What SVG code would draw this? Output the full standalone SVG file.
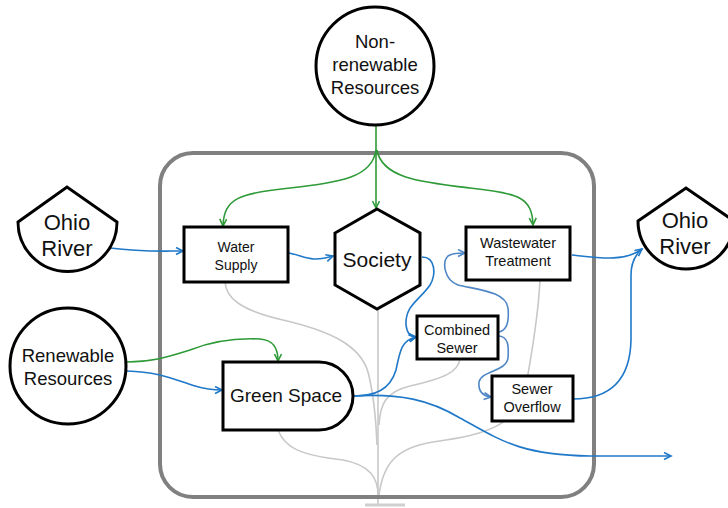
<svg xmlns="http://www.w3.org/2000/svg" width="728" height="508" viewBox="0 0 728 508">
<defs>
<style>
.node{fill:#fff;stroke:#000;stroke-width:3}
.t{font-family:"Liberation Sans",Arial,sans-serif;fill:#111;text-anchor:middle}
.blue{fill:none;stroke:#1f78c8;stroke-width:1.6}
.lblue{fill:none;stroke:#4f86c6;stroke-width:1.6}
.green{fill:none;stroke:#2e9a38;stroke-width:1.6}
.tree{fill:none;stroke:#c8c8c8;stroke-width:1.6}
</style>
<marker id="ab" markerUnits="userSpaceOnUse" markerWidth="10" markerHeight="10" refX="8" refY="4" orient="auto"><path d="M1,0.5 L8,4 L1,7.5" fill="none" stroke="#1f78c8" stroke-width="1.6"/></marker>
<marker id="alb" markerUnits="userSpaceOnUse" markerWidth="10" markerHeight="10" refX="8" refY="4" orient="auto"><path d="M1,0.5 L8,4 L1,7.5" fill="none" stroke="#4f86c6" stroke-width="1.6"/></marker>
<marker id="ag" markerUnits="userSpaceOnUse" markerWidth="10" markerHeight="10" refX="8" refY="4" orient="auto"><path d="M1,0.5 L8,4 L1,7.5" fill="none" stroke="#2e9a38" stroke-width="1.6"/></marker>
</defs>
<rect width="728" height="508" fill="#fff"/>

<g id="tree">
<path class="tree" d="M378,309 L378,505"/>
<path d="M365,505 L405,505" stroke="#d0d0d0" stroke-width="3"/>
<path class="tree" d="M225,282 C226,298 240,310 283,320 C330,331 360,345 368,372 C374,395 376,420 377,445"/>
<path class="tree" d="M460,359 C458,372 445,378 410,386 C385,392 380,405 379,425"/>
<path class="tree" d="M278,430 C285,448 300,455 343,460 C370,465 378,478 378,495"/>
<path class="tree" d="M540,280 C538,320 532,350 527,380 C520,425 490,434 433,442 C395,448 383,465 379,495"/>
</g>

<g id="system-boundary">
<rect x="160" y="153" width="434" height="344" rx="33" fill="none" stroke="#808080" stroke-width="4"/>
</g>

<g id="connectors">
<path class="green" d="M376,125 L376,208" marker-end="url(#ag)"/>
<path class="green" d="M376,150 C372,178 340,182 290,188 C240,193 224,198 223,226" marker-end="url(#ag)"/>
<path class="green" d="M377,150 C382,178 420,182 470,188 C520,193 532,198 533,225" marker-end="url(#ag)"/>
<path class="green" d="M127,362 C150,362 165,358 190,350 C215,340 240,338 260,339 C275,340 278,350 278,361" marker-end="url(#ag)"/>
<path class="blue" d="M110,248 C140,252 160,251 183,251" marker-end="url(#ab)"/>
<path class="blue" d="M127,371 C160,372 175,380 195,386 C205,389 212,390 222,390" marker-end="url(#ab)"/>
<path class="blue" d="M289,253 C305,256 310,263 333,256" marker-end="url(#ab)"/>
<path class="blue" d="M422,257 C436,257 436,275 430,285 C420,300 405,305 406,325 C407,333 410,337 416,337" marker-end="url(#ab)"/>
<path class="blue" d="M353,396 C375,396 390,390 396,370 C400,350 402,340 416,337" marker-end="url(#ab)"/>
<path class="lblue" d="M499,332 C508,330 509,318 508,308 C506,292 480,290 458,285 C444,280 442,262 448,256 C452,253 458,253 465,253" marker-end="url(#alb)"/>
<path class="lblue" d="M499,336 C508,337 509,345 508,358 C506,372 482,370 479,382 C478,392 484,396 491,397" marker-end="url(#alb)"/>
<path class="blue" d="M572,255 C600,258 625,262 642,249" marker-end="url(#ab)"/>
<path class="blue" d="M573,399 C605,399 630,385 631,340 L631,275 C631,262 635,255 642,249"/>
<path class="blue" d="M353,396 C400,393 430,400 460,418 C500,440 520,455 590,456 L671,456" marker-end="url(#ab)"/>
</g>

<g id="nonrenewable">
<circle class="node" cx="375" cy="66" r="59"/>
<text class="t" font-size="18.5" x="375" y="48">Non-</text>
<text class="t" font-size="18.5" x="375" y="71">renewable</text>
<text class="t" font-size="18.5" x="375" y="94">Resources</text>
</g>

<g id="ohio-left">
<path class="node" d="M18,222 L67,187 L117,222 A49.5,49.5 0 0 1 18,222 Z"/>
<text class="t" font-size="22" x="67" y="230">Ohio</text>
<text class="t" font-size="22" x="67" y="256">River</text>
</g>

<g id="ohio-right">
<path class="node" d="M638,221 L686,188 L734,221 A48,48 0 0 1 638,221 Z"/>
<text class="t" font-size="22" x="685" y="228">Ohio</text>
<text class="t" font-size="22" x="685" y="254">River</text>
</g>

<g id="renewable">
<circle class="node" cx="68" cy="366" r="58"/>
<text class="t" font-size="18.5" x="68" y="362">Renewable</text>
<text class="t" font-size="18.5" x="68" y="385">Resources</text>
</g>

<g id="water-supply">
<rect class="node" x="184" y="227" width="104" height="55"/>
<text class="t" font-size="14" x="236" y="252">Water</text>
<text class="t" font-size="14" x="236" y="270">Supply</text>
</g>

<g id="society">
<polygon class="node" points="377,209 420,233 420,285 377,309 335,285 335,233"/>
<text class="t" font-size="21" x="377" y="267">Society</text>
</g>

<g id="wastewater">
<rect class="node" x="466" y="227" width="104" height="53"/>
<text class="t" font-size="14.5" x="518" y="248">Wastewater</text>
<text class="t" font-size="14.5" x="518" y="266">Treatment</text>
</g>

<g id="combined-sewer">
<rect class="node" x="417" y="316" width="81" height="43"/>
<text class="t" font-size="14.5" x="457" y="335">Combined</text>
<text class="t" font-size="14.5" x="457" y="353">Sewer</text>
</g>

<g id="sewer-overflow">
<rect class="node" x="492" y="376" width="81" height="45"/>
<text class="t" font-size="14.5" x="532" y="394">Sewer</text>
<text class="t" font-size="14.5" x="532" y="412">Overflow</text>
</g>

<g id="green-space">
<path class="node" d="M223,362 L319,362 A34,34 0 0 1 319,430 L223,430 Z"/>
<text class="t" font-size="19" x="286" y="402">Green Space</text>
</g>
</svg>
